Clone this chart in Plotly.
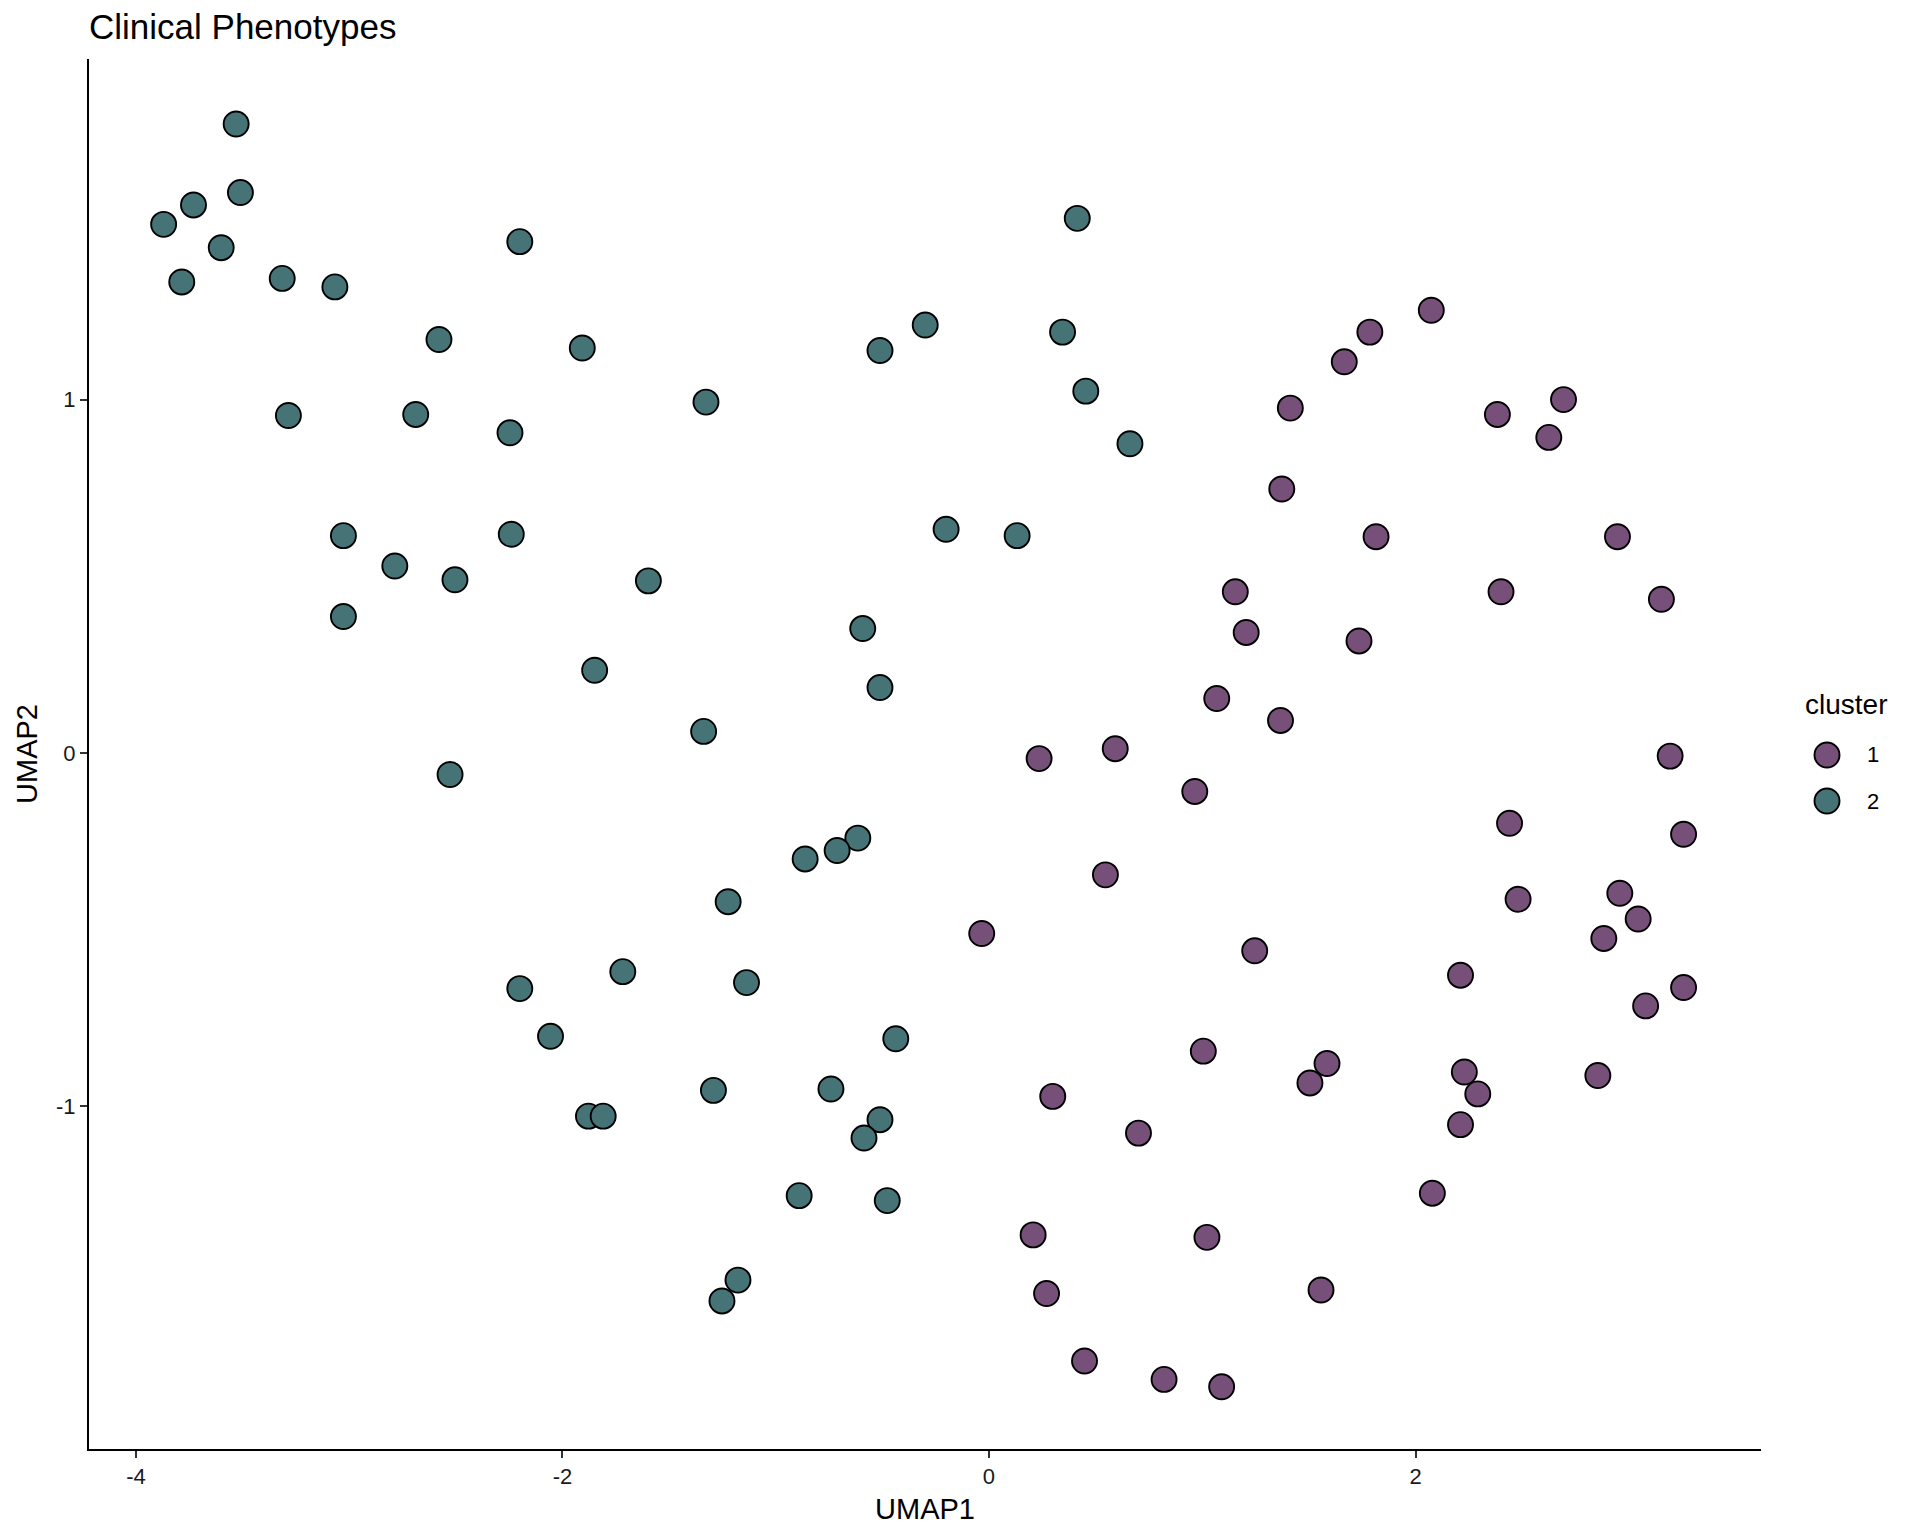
import plotly.graph_objects as go

# UMAP coordinates
cluster1_x = [2.074, 1.786, 1.666, 1.413, 2.694, 2.384, 2.625, 1.373, 1.815, 2.947,
              2.401, 3.153, 1.155, 1.206, 1.735, 1.068, 1.367, 0.592, 0.235, 3.194,
              0.965, 2.441, 3.257, 0.546, 2.481, 2.958, 3.044, 2.883, -0.034, 1.246,
              2.211, 3.257, 3.079, 1.005, 1.585, 1.505, 2.229, 2.292, 2.855, 0.299,
              0.701, 2.211, 2.079, 0.207, 1.022, 0.270, 1.557, 0.448, 0.821, 1.091]
cluster1_y = [1.253, 1.191, 1.107, 0.976, 1.000, 0.958, 0.893, 0.747, 0.612, 0.612,
              0.456, 0.435, 0.456, 0.341, 0.317, 0.154, 0.092, 0.012, -0.016, -0.009,
              -0.109, -0.199, -0.230, -0.345, -0.414, -0.397, -0.470, -0.525, -0.511, -0.560,
              -0.629, -0.664, -0.716, -0.844, -0.879, -0.934, -0.903, -0.965, -0.913, -0.972,
              -1.076, -1.052, -1.246, -1.364, -1.371, -1.530, -1.520, -1.721, -1.773, -1.794]

cluster2_x = [-3.53, -3.87, -3.73, -3.51, -3.60, -3.785, -3.314, -3.067, -2.20, -2.579,
              -1.907, -3.285, -2.688, -2.246, -1.327, -3.027, -2.786, -2.504, -2.240, -3.027,
              -1.597, -1.849, -2.527, -1.338, -0.511, -0.299, 0.414, 0.345, 0.454, 0.661,
              -0.201, 0.132, -0.592, -0.511, -0.615, -0.712, -0.862, -1.223, -1.137, -1.717,
              -2.200, -2.056, -0.437, -1.292, -0.741, -1.878, -1.809, -0.511, -0.586, -0.890,
              -0.477, -1.177, -1.252]
cluster2_y = [1.78, 1.496, 1.551, 1.586, 1.43, 1.333, 1.343, 1.319, 1.447, 1.170,
              1.146, 0.955, 0.958, 0.906, 0.993, 0.615, 0.529, 0.490, 0.619, 0.386,
              0.487, 0.234, -0.061, 0.061, 1.139, 1.211, 1.513, 1.191, 1.024, 0.875,
              0.633, 0.615, 0.352, 0.185, -0.241, -0.276, -0.300, -0.421, -0.650, -0.619,
              -0.667, -0.802, -0.809, -0.955, -0.951, -1.028, -1.028, -1.038, -1.090, -1.253,
              -1.267, -1.492, -1.551]

clusters = ["1", "2"]
colors = {"1": "#765079", "2": "#467476"}
data = {"1": (cluster1_x, cluster1_y), "2": (cluster2_x, cluster2_y)}

x_ticks = [-4, -2, 0, 2]
x_tick_labels = ["-4", "-2", "0", "2"]
y_ticks = [-1, 0, 1]
y_tick_labels = ["-1", "0", "1"]

font = "Arial, Liberation Sans, sans-serif"

# plot panel in page pixels (page has an 8px body margin)
L, T, W, H = 89, 59, 1672, 1390


def px(X):
    return (X - L) / W


def py(Y):
    return 1 - (Y - T) / H


fig = go.Figure()
for c in clusters:
    xs, ys = data[c]
    fig.add_trace(go.Scatter(
        x=xs, y=ys, mode="markers", name=c, showlegend=False,
        marker=dict(size=25, color=colors[c], line=dict(color="black", width=1.9)),
    ))

axis_style = dict(
    showline=True, linecolor="black", linewidth=2, mirror=False,
    showgrid=False, zeroline=False,
    ticks="outside", ticklen=7, tickwidth=2, tickcolor="#333333",
    tickfont=dict(family=font, size=22, color="#1a1a1a"),
)

# legend drawn by hand so the keys match the point size
fig.add_annotation(text="cluster", xref="paper", yref="paper", x=px(1803), y=py(705),
                   xanchor="left", yanchor="middle", showarrow=False,
                   font=dict(family=font, size=28, color="black"))
for i, c in enumerate(clusters):
    yc = 755 + 46 * i
    fig.add_shape(type="circle", xref="paper", yref="paper",
                  xsizemode="pixel", ysizemode="pixel",
                  xanchor=px(1827), yanchor=py(yc), x0=-12.5, x1=12.5, y0=-12.5, y1=12.5,
                  fillcolor=colors[c], line=dict(color="black", width=1.9))
    fig.add_annotation(text=c, xref="paper", yref="paper", x=px(1865), y=py(yc),
                       xanchor="left", yanchor="middle", showarrow=False,
                       font=dict(family=font, size=22, color="black"))

fig.update_layout(
    width=1920, height=1536,
    paper_bgcolor="white", plot_bgcolor="white",
    margin=dict(l=L - 8, r=1920 - W - L + 8, t=T - 8, b=1536 - H - T + 8),
    showlegend=False,
    title=dict(text="Clinical Phenotypes", x=(L - 8) / 1920, xanchor="left",
               y=1 - 19 / 1536, yanchor="middle",
               font=dict(family=font, size=35, color="black")),
    xaxis=dict(range=[-4.22, 3.62], tickvals=x_ticks, ticktext=x_tick_labels,
               title=dict(text="UMAP1", standoff=10,
                          font=dict(family=font, size=29, color="black")),
               **axis_style),
    yaxis=dict(range=[-1.97, 1.964], tickvals=y_ticks, ticktext=y_tick_labels,
               title=dict(text="UMAP2", standoff=10,
                          font=dict(family=font, size=29, color="black")),
               **axis_style),
)

fig.write_html("out.html")
